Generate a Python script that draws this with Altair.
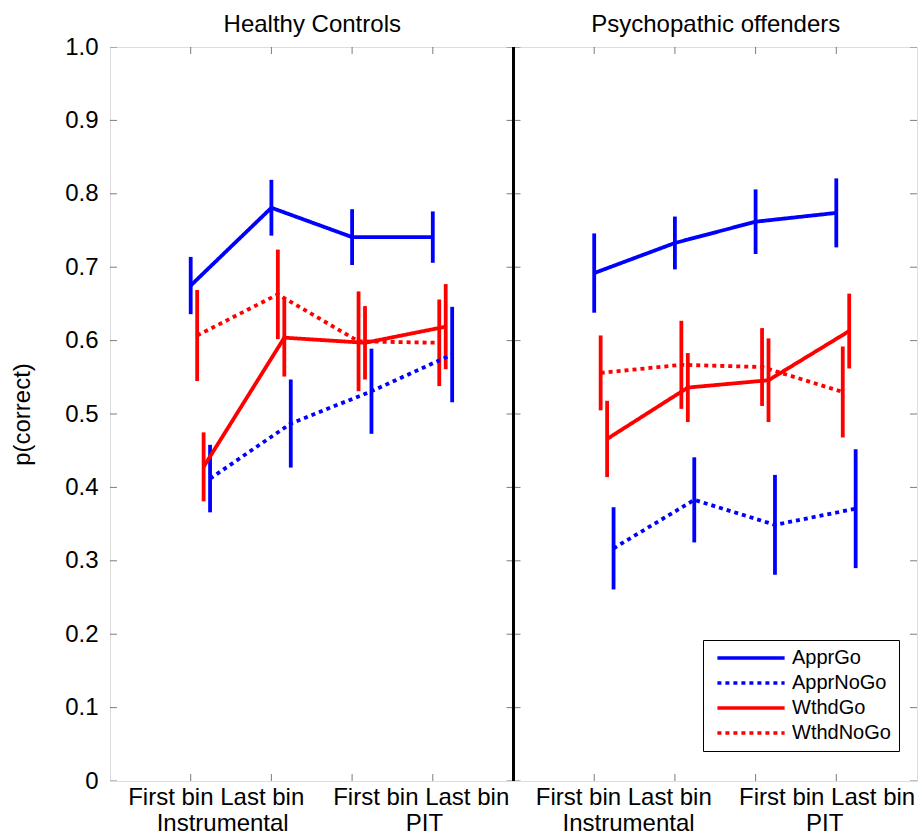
import altair as alt
import pandas as pd

# Panels, conditions and bins
groups = ["Healthy Controls", "Psychopathic offenders"]
series = ["ApprGo", "ApprNoGo", "WthdGo", "WthdNoGo"]
bin_labels = ["First bin", "Last bin"]
phase_labels = ["Instrumental", "PIT"]
y_tick_values = [0, 0.1, 0.2, 0.3, 0.4, 0.5, 0.6, 0.7, 0.8, 0.9, 1.0]

# Mean p(correct) per bin (Instrumental first, Instrumental last, PIT first, PIT last)
hc_appr_go = [0.675, 0.781, 0.741, 0.741]
hc_appr_nogo = [0.412, 0.487, 0.531, 0.581]
hc_wthd_go = [0.428, 0.604, 0.597, 0.619]
hc_wthd_nogo = [0.607, 0.663, 0.599, 0.597]

po_appr_go = [0.692, 0.733, 0.762, 0.774]
po_appr_nogo = [0.317, 0.383, 0.349, 0.371]
po_wthd_go = [0.466, 0.536, 0.546, 0.613]
po_wthd_nogo = [0.556, 0.567, 0.564, 0.530]

# Standard errors
hc_appr_go_se = [0.039, 0.038, 0.038, 0.035]
hc_appr_nogo_se = [0.046, 0.060, 0.058, 0.065]
hc_wthd_go_se = [0.047, 0.053, 0.050, 0.058]
hc_wthd_nogo_se = [0.062, 0.061, 0.068, 0.059]

po_appr_go_se = [0.054, 0.036, 0.044, 0.047]
po_appr_nogo_se = [0.056, 0.058, 0.068, 0.081]
po_wthd_go_se = [0.052, 0.047, 0.057, 0.051]
po_wthd_nogo_se = [0.051, 0.060, 0.053, 0.062]

means = {
    "Healthy Controls": [hc_appr_go, hc_appr_nogo, hc_wthd_go, hc_wthd_nogo],
    "Psychopathic offenders": [po_appr_go, po_appr_nogo, po_wthd_go, po_wthd_nogo],
}
sems = {
    "Healthy Controls": [hc_appr_go_se, hc_appr_nogo_se, hc_wthd_go_se, hc_wthd_nogo_se],
    "Psychopathic offenders": [po_appr_go_se, po_appr_nogo_se, po_wthd_go_se, po_wthd_nogo_se],
}

# small horizontal dodge so the error bars do not sit on top of each other
dodge = {"ApprGo": 0.0, "WthdNoGo": 0.08, "WthdGo": 0.16, "ApprNoGo": 0.24}

rows = []
for gi, g in enumerate(groups):
    for si, s in enumerate(series):
        for b in range(4):
            m = means[g][si][b]
            e = sems[g][si][b]
            rows.append({
                "group": g, "series": s,
                "x": 5 * gi + (b + 1) + dodge[s],
                "mean": m, "lo": m - e, "hi": m + e,
            })
df = pd.DataFrame(rows)

FONT = "Liberation Sans"
colors = ["#0000ff", "#0000ff", "#ff0000", "#ff0000"]
dashes = [[1, 0], [4, 4], [1, 0], [4, 4]]

x_scale = alt.Scale(domain=[0, 10], nice=False, zero=False)
y_scale = alt.Scale(domain=[0, 1], nice=False, zero=False)

legend = alt.Legend(
    orient="none", legendX=593, legendY=593, title=None,
    fillColor="white", strokeColor="black", cornerRadius=0, padding=8,
    symbolType="M-4.2,0H4.2", symbolSize=256, symbolStrokeWidth=3.5,
    symbolFillColor="transparent", symbolOffset=30, labelOffset=31,
    labelFontSize=20, labelFont=FONT, labelColor="black", rowPadding=5,
)
color_enc = alt.Color("series:N", scale=alt.Scale(domain=series, range=colors), legend=legend)
dash_enc = alt.StrokeDash("series:N", scale=alt.Scale(domain=series, range=dashes), legend=legend)

# "First bin Last bin" under each half panel
bin_text = bin_labels[0] + " " + bin_labels[1]
bin_axis = alt.Axis(
    values=[1.31, 3.85, 6.36, 8.88], labelExpr=f"'{bin_text}'",
    ticks=False, tickSize=0, domain=False, grid=False, labelPadding=4,
    labelFontSize=24, labelOverlap=False, labelBound=False, labelFlush=False,
    labelLimit=0, title=None,
)
phase_axis = alt.Axis(
    values=[1.39, 3.89, 6.42, 8.85],
    labelExpr=f"datum.value % 5 < 2.5 ? '{phase_labels[0]}' : '{phase_labels[1]}'",
    ticks=False, tickSize=0, domain=False, grid=False, labelPadding=30,
    labelFontSize=24, labelOverlap=False, labelBound=False, labelFlush=False,
    labelLimit=0, title=None,
)
title_axis = alt.Axis(
    orient="top", values=[2.5, 7.5],
    labelExpr=f"datum.value < 5 ? '{groups[0]}' : '{groups[1]}'",
    ticks=False, tickSize=0, domain=False, grid=False, labelPadding=11,
    labelFontSize=24, labelOverlap=False, labelBound=False, labelFlush=False,
    labelLimit=0, title=None,
)
y_axis = alt.Axis(
    values=y_tick_values,
    labelExpr="datum.value == 0 ? '0' : format(datum.value, '.1f')",
    ticks=False, tickSize=0, domain=False, grid=False, labelPadding=12,
    labelFontSize=24, labelOverlap=False, labelFlush=False,
    title="p(correct)", titleFontSize=24, titleFontWeight="normal",
    titleAngle=270, titleX=-88, titleY=367, titleAlign="center", titleBaseline="middle",
)

base = alt.Chart(df)

errorbars = base.mark_rule(strokeWidth=3.8).encode(
    x=alt.X("x:Q", scale=x_scale, axis=None),
    y=alt.Y("lo:Q", scale=y_scale, axis=None),
    y2="hi:Q",
    color=color_enc,
)

lines = base.mark_line(strokeWidth=3.8).encode(
    x=alt.X("x:Q", scale=x_scale, axis=bin_axis),
    y=alt.Y("mean:Q", scale=y_scale, axis=y_axis),
    color=color_enc,
    strokeDash=dash_enc,
    detail="group:N",
    order="x:Q",
)

# inward tick marks on the frame of each panel
bin_positions = [1, 2, 3, 4, 6, 7, 8, 9]
xticks_bottom = alt.Chart(pd.DataFrame({"x": bin_positions, "y": [0] * 8})).mark_tick(
    orient="vertical", size=14, thickness=1, color="#444", clip=True
).encode(
    x=alt.X("x:Q", scale=x_scale, axis=phase_axis),
    y=alt.Y("y:Q", scale=y_scale, axis=None),
)
xticks_top = alt.Chart(pd.DataFrame({"x": bin_positions, "y": [1] * 8})).mark_tick(
    orient="vertical", size=14, thickness=1, color="#444", clip=True
).encode(
    x=alt.X("x:Q", scale=x_scale, axis=title_axis),
    y=alt.Y("y:Q", scale=y_scale, axis=None),
)
yt = pd.DataFrame([{"x": xv, "y": yv} for xv in [0, 5, 10] for yv in y_tick_values])
yticks = alt.Chart(yt).mark_tick(
    orient="horizontal", size=14, thickness=1, color="#444", clip=True
).encode(
    x=alt.X("x:Q", scale=x_scale, axis=None),
    y=alt.Y("y:Q", scale=y_scale, axis=None),
)

# heavy line separating the two panels
divider = alt.Chart(pd.DataFrame({"x": [5]})).mark_rule(color="black", strokeWidth=3).encode(
    x=alt.X("x:Q", scale=x_scale, axis=None),
)

chart = alt.layer(
    yticks, xticks_bottom, xticks_top, divider, errorbars, lines
).resolve_axis(x="independent", y="independent").properties(
    width=807, height=734,
    autosize=alt.AutoSizeParams(type="none"),
    padding={"left": 110, "top": 47, "right": 5, "bottom": 55},
).configure_view(
    stroke="black", strokeWidth=1.5
).configure_axis(
    labelFont=FONT, titleFont=FONT, labelColor="black", titleColor="black"
).configure(background="white")

chart.save("out.html", embed_options={"renderer": "svg", "actions": False})
